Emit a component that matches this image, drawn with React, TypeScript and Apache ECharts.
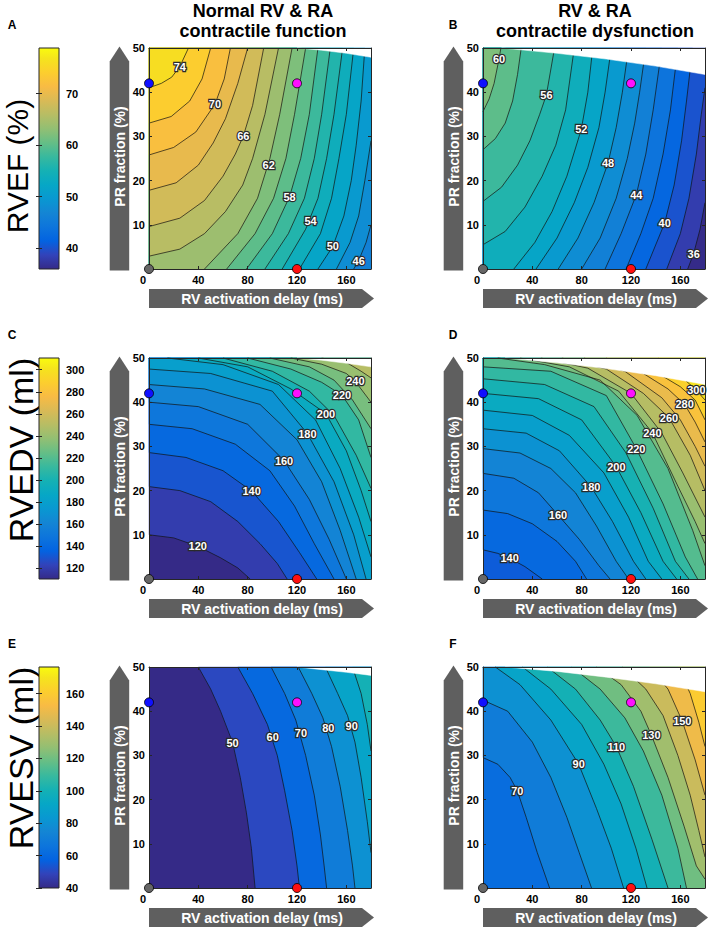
import React, { useEffect, useRef } from "react";
import * as echarts from "echarts";

const FONT = "'Liberation Sans', Arial, Helvetica, sans-serif";

// ---- axes ----
const X_MIN = 0, X_MAX = 180, X_STEP = 40;
const Y_MIN = 0, Y_MAX = 50, Y_STEP = 10;

// ---- marker points (RV activation delay ms, PR fraction %) ----
const DOT_X = [0, 120, 120, 0];
const DOT_Y = [42, 42, 0, 0];
const DOT_COLORS = ["#1010ff", "#ff10ff", "#ff1010", "#666666"];

// ---- colour bars ----
const CB_RANGES = [[35.9, 78.9], [110.3, 310.6], [40, 176.4]];
const CB1_TICKS = [40, 50, 60, 70];
const CB2_TICKS = [120, 140, 160, 180, 200, 220, 240, 260, 280, 300];
const CB3_TICKS = [40, 60, 80, 100, 120, 140, 160];
const CB_TICKS = [CB1_TICKS, CB2_TICKS, CB3_TICKS];
// band colour taken from the band's upper level (1) or lower level (0), per row
const BAND_SHIFT = [1, 0, 0];
const ROW_TITLES = ["RVEF (%)", "RVEDV (ml)", "RVESV (ml)"];
const COL_TITLES = [["Normal RV & RA", "contractile function"], ["RV & RA", "contractile dysfunction"]];
const PANEL_LETTERS = ["A", "B", "C", "D", "E", "F"];
const Y_AXIS_NAME = "PR fraction (%)";
const X_AXIS_NAME = "RV activation delay (ms)";

// ---- Panel A: RVEF, normal ----
const A_MIN = 45;
const A_LEVELS = [46, 48, 50, 52, 54, 56, 58, 60, 62, 64, 66, 68, 70, 72, 74];
const A_LINES = [
  [[166, 0], [170, 1.9], [176, 6], [180, 10]],
  [[152, 0], [163, 6], [170, 12], [175, 20], [180, 29]],
  [[137, 0], [149, 5.1], [158, 12], [164, 20], [168, 28], [172, 38], [175, 50]],
  [[122, 0], [139, 8], [148, 16], [154, 25], [160, 35], [166, 50]],
  [[108, 0], [127, 9], [137, 16], [144, 25], [150, 35], [157, 50]],
  [[94, 0], [113, 8], [126, 16], [134, 25], [140, 35], [147, 50]],
  [[79, 0], [100, 8], [114, 16.4], [123, 25], [130, 35], [137, 50]],
  [[63, 0], [86, 8], [101, 16], [111, 25], [118, 35], [127, 50]],
  [[45, 0], [72, 8], [88, 16], [98, 25], [106, 35], [116, 50]],
  [[0, 2.9], [25, 4.5], [45, 8], [62, 13], [76, 19], [84, 25], [94, 35], [105, 50]],
  [[0, 9.6], [25, 11.5], [45, 15.5], [60, 21], [70, 26], [76.5, 30.1], [84, 37], [93, 50]],
  [[0, 17.8], [22, 19.5], [40, 23.5], [52, 28.5], [62, 34], [72, 42], [80, 50]],
  [[0, 25.8], [20, 27.5], [38, 31], [53.5, 37.3], [61, 43], [66, 50]],
  [[0, 33], [18, 34.5], [33, 38], [43, 43], [50, 50]],
  [[0, 41], [10, 42], [18.4, 43.4], [25, 45.8], [32, 50]],
];
const A_LABELS = [[25, 45.8, "74"], [53.5, 37.3, "70"], [76.5, 30.1, "66"], [97, 23.6, "62"], [114, 16.4, "58"], [131, 10.9, "54"], [149, 5.1, "50"], [170, 1.9, "46"]];
const A_CUT_X = [120, 140, 160, 180];
const A_CUT_Y = [50, 49.5, 48.8, 47.9];

// ---- Panel B: RVEF, dysfunction ----
const B_MIN = 35.9;
const B_LEVELS = [36, 38, 40, 42, 44, 46, 48, 50, 52, 54, 56, 58, 60];
const B_LINES = [
  [[166, 0], [170.8, 3.5], [176, 9], [180, 15]],
  [[149, 0], [160, 8], [167, 16], [173, 26], [177, 35], [180, 41]],
  [[132, 0], [147.3, 10.4], [155, 19], [161, 29], [165, 38], [170, 50]],
  [[116, 0], [128, 8], [138, 16], [146, 26], [152, 36], [158, 50]],
  [[99, 0], [112, 8], [124.3, 16.8], [132, 26], [138, 36], [145, 50]],
  [[80, 0], [95, 7], [108, 16], [117, 25], [123, 33], [127, 40], [132, 50]],
  [[61, 0], [77, 7], [90, 15], [101.4, 24], [108, 32], [113, 40], [118, 50]],
  [[43, 0], [60, 7], [74, 15], [85, 23], [94, 32], [99, 40], [104, 50]],
  [[25, 0], [42, 6], [56, 13], [68, 21], [79.7, 31.6], [85, 40], [89, 50]],
  [[0, 5.5], [18, 8.5], [34, 14], [48, 21], [59, 28], [67, 36], [74, 50]],
  [[0, 15.3], [15, 18.5], [28, 23.5], [38, 29], [46, 35], [51.4, 39.4], [58, 50]],
  [[0, 27], [10, 29.5], [18, 33], [24, 38], [28, 44], [31, 50]],
  [[0, 35.6], [5, 38.5], [9, 42], [13, 47.5], [14.5, 50]],
];
const B_LABELS = [[13, 47.5, "60"], [51.4, 39.4, "56"], [79.7, 31.6, "52"], [101.4, 24, "48"], [124.3, 16.8, "44"], [147.3, 10.4, "40"], [170.8, 3.5, "36"]];
const B_CUT_X = [15, 60, 100, 140, 180];
const B_CUT_Y = [50, 48.8, 47.5, 45.9, 44];

// ---- Panel C: RVEDV, normal ----
const C_MIN = 110.3;
const C_LEVELS = [120, 130, 140, 150, 160, 170, 180, 190, 200, 210, 220, 230, 240, 250];
const C_LINES = [
  [[0, 10], [20, 9.3], [39.5, 7.4], [58, 4.8], [72, 2.5], [82, 0]],
  [[0, 20.9], [25, 20], [50, 17.5], [72, 13], [90, 8], [104, 3.5], [112, 0]],
  [[0, 28.6], [30, 27.5], [60, 24.5], [83.2, 19.9], [105, 13], [122, 6], [136, 0]],
  [[0, 35], [35, 34], [70, 30.5], [98, 24.5], [118, 16.5], [134, 8], [150, 0]],
  [[0, 40], [40, 39], [80, 35], [109.5, 26.8], [130, 18], [146, 9], [160, 0]],
  [[0, 44], [45, 43], [90, 39.5], [120, 31.5], [140, 22], [155, 11], [168, 0]],
  [[0, 47.5], [50, 46.5], [100, 42.5], [128.4, 32.9], [150, 22], [166, 10], [176, 0]],
  [[15, 50], [60, 48.5], [105, 44], [135, 36], [155, 25], [170, 14], [180, 5]],
  [[40, 50], [80, 48], [115, 43], [143.5, 37.4], [160, 29], [172, 20], [180, 13]],
  [[60, 50], [100, 47], [130, 42.5], [150, 37], [168, 28], [180, 20.5]],
  [[80, 50], [115, 47.5], [140, 44.5], [156.5, 41.6], [170, 36], [180, 27.5]],
  [[98, 50], [130, 48], [150, 45], [165, 40.5], [180, 34]],
  [[115, 50], [140, 48.6], [160, 46.5], [167.3, 44.7], [180, 40]],
  [[140, 50], [160, 49], [172, 47], [180, 45.5]],
];
const C_LABELS = [[39.5, 7.4, "120"], [83.2, 19.9, "140"], [109.5, 26.8, "160"], [128.4, 32.9, "180"], [143.5, 37.4, "200"], [156.5, 41.6, "220"], [167.3, 44.7, "240"]];
const C_CUT_X = [120, 140, 160, 180];
const C_CUT_Y = [50, 49.5, 48.8, 48];

// ---- Panel D: RVEDV, dysfunction ----
const D_MIN = 133;
const D_LEVELS = [140, 150, 160, 170, 180, 190, 200, 210, 220, 230, 240, 250, 260, 270, 280, 290, 300];
const D_LINES = [
  [[0, 6.6], [12, 5.8], [21.6, 4.7], [34, 2.8], [48, 0]],
  [[0, 15.6], [20, 14.8], [40, 12.5], [60, 8.5], [75, 4], [84, 0]],
  [[0, 23.9], [25, 22.8], [45, 19.5], [60.8, 14.5], [78, 9], [94, 3], [103, 0]],
  [[0, 29.5], [30, 28.5], [55, 25], [75, 19.5], [92, 12], [108, 4], [118, 0]],
  [[0, 34], [35, 33], [62, 29], [87.8, 20.8], [105, 13], [122, 4], [132, 0]],
  [[0, 38.2], [40, 37], [70, 32.5], [98, 24], [118, 14], [134, 4], [145, 0]],
  [[0, 42], [45, 40.8], [80, 36], [108.1, 25.4], [128, 15], [146, 4], [157, 0]],
  [[0, 45.3], [50, 44], [90, 39], [116, 28.5], [138, 16], [156, 4], [167, 0]],
  [[0, 48], [55, 47], [100, 41.5], [124.3, 29.5], [146, 17], [164, 5], [174, 0]],
  [[12, 50], [50, 48.5], [95, 45], [125, 37], [150, 25], [170, 11], [180, 3]],
  [[30, 50], [70, 48], [110, 42.5], [137.3, 33.1], [158, 21], [172, 13], [180, 8]],
  [[47, 50], [85, 47.7], [120, 42], [145, 33], [162, 24], [180, 14]],
  [[64, 50], [100, 47.5], [130, 42], [150.8, 36.5], [168, 28], [180, 20]],
  [[82, 50], [115, 47], [145, 41], [160, 36], [172, 30], [180, 25.5]],
  [[100, 50], [130, 46.5], [150, 43], [163.5, 39.5], [172, 35.5], [180, 31]],
  [[120, 50], [145, 46], [160, 43.5], [172, 40.5], [180, 36]],
  [[142, 50], [160, 46], [173, 42.7], [180, 40.5]],
];
const D_LABELS = [[21.6, 4.7, "140"], [60.8, 14.5, "160"], [87.8, 20.8, "180"], [108.1, 25.4, "200"], [124.3, 29.5, "220"], [137.3, 33.1, "240"], [150.8, 36.5, "260"], [163.5, 39.5, "280"], [173, 42.7, "300"]];
const D_CUT_X = [18, 60, 100, 140, 180];
const D_CUT_Y = [50, 48.9, 47.6, 46, 44];

// ---- Panel E: RVESV, normal ----
const E_MIN = 40;
const E_LEVELS = [50, 60, 70, 80, 90, 100];
const E_LINES = [
  [[40, 50], [50, 45], [58, 40], [67.8, 32.9], [74, 25], [79, 17], [83, 9], [86, 0]],
  [[72, 50], [84, 44], [96, 37], [104, 30], [110, 22], [116, 13], [120, 5], [122, 0]],
  [[99, 50], [110, 44], [119, 38], [127, 30], [134, 21], [139, 12], [142, 5], [144, 0]],
  [[121, 50], [132, 44], [141, 38.5], [148, 32], [155, 23], [161, 13], [165, 5], [167, 0]],
  [[143, 50], [153, 44], [161, 39], [167, 33], [172, 25], [177, 15], [180, 8]],
  [[165, 50], [172, 44], [177, 37], [180, 31]],
];
const E_LABELS = [[67.8, 32.9, "50"], [100.3, 34.2, "60"], [123.2, 35.1, "70"], [145.4, 36.1, "80"], [164.3, 36.6, "90"]];
const E_CUT_X = [120, 140, 160, 180];
const E_CUT_Y = [50, 49.4, 48.8, 48.1];

// ---- Panel F: RVESV, dysfunction ----
const F_MIN = 62;
const F_LEVELS = [70, 80, 90, 100, 110, 120, 130, 140, 150, 160];
const F_LINES = [
  [[0, 29.5], [12, 28], [22, 25], [27.8, 22], [35, 16], [44, 8], [54, 0]],
  [[0, 42.5], [20, 40], [40, 33], [55, 25], [68, 16], [78, 8], [88, 0]],
  [[10, 50], [30, 46], [55, 38], [77.6, 28], [92, 18], [104, 9], [114, 0]],
  [[32, 50], [55, 45], [80, 37], [98, 28], [112, 19], [124, 9], [133, 0]],
  [[52, 50], [75, 45], [95, 38], [108.1, 32], [122, 23], [137, 11], [150, 0]],
  [[72, 50], [95, 45], [115, 38.5], [130, 31], [145, 21], [158, 9], [165, 0]],
  [[92, 50], [112, 46], [128, 40], [136.5, 34.6], [150, 25], [163, 14], [173, 5], [180, 2]],
  [[113, 50], [132, 45], [146, 39], [158, 30], [168, 21], [175, 13], [180, 7]],
  [[135, 50], [150, 45], [161.6, 37.7], [172, 29], [180, 21]],
  [[158, 50], [168, 44], [175, 37.5], [180, 32]],
];
const F_LABELS = [[27.8, 22, "70"], [77.6, 28, "90"], [108.1, 32, "110"], [136.5, 34.6, "130"], [161.6, 37.7, "150"]];
const F_CUT_X = [18, 60, 100, 140, 180];
const F_CUT_Y = [50, 49, 47.7, 46.2, 44.4];

const PANELS = [
  { levels: A_LEVELS, lines: A_LINES, labels: A_LABELS, cutX: A_CUT_X, cutY: A_CUT_Y, base: A_MIN, row: 0, col: 0 },
  { levels: B_LEVELS, lines: B_LINES, labels: B_LABELS, cutX: B_CUT_X, cutY: B_CUT_Y, base: B_MIN, row: 0, col: 1 },
  { levels: C_LEVELS, lines: C_LINES, labels: C_LABELS, cutX: C_CUT_X, cutY: C_CUT_Y, base: C_MIN, row: 1, col: 0 },
  { levels: D_LEVELS, lines: D_LINES, labels: D_LABELS, cutX: D_CUT_X, cutY: D_CUT_Y, base: D_MIN, row: 1, col: 1 },
  { levels: E_LEVELS, lines: E_LINES, labels: E_LABELS, cutX: E_CUT_X, cutY: E_CUT_Y, base: E_MIN, row: 2, col: 0 },
  { levels: F_LEVELS, lines: F_LINES, labels: F_LABELS, cutX: F_CUT_X, cutY: F_CUT_Y, base: F_MIN, row: 2, col: 1 },
];

// ---- parula colour map (style) ----
const PARULA: [number, string][] = [
  [0, "#352a87"], [4 / 63, "#3243ba"], [8 / 63, "#0363e1"], [12 / 63, "#0d75dc"], [16 / 63, "#1485d4"],
  [20 / 63, "#0998d1"], [24 / 63, "#06a7c6"], [28 / 63, "#15b1b4"], [32 / 63, "#38b99e"], [36 / 63, "#65be86"],
  [40 / 63, "#92bf73"], [44 / 63, "#b7bd64"], [48 / 63, "#d9ba56"], [52 / 63, "#f8bb44"], [56 / 63, "#fcce2e"],
  [60 / 63, "#f5e41d"], [1, "#f9fb0e"],
];
function hexRgb(h: string) {
  return [parseInt(h.slice(1, 3), 16), parseInt(h.slice(3, 5), 16), parseInt(h.slice(5, 7), 16)];
}
function parula(t: number) {
  t = Math.max(0, Math.min(1, t));
  for (let i = 0; i < PARULA.length - 1; i++) {
    const [p0, c0] = PARULA[i];
    const [p1, c1] = PARULA[i + 1];
    if (t <= p1) {
      const f = (t - p0) / (p1 - p0);
      const a = hexRgb(c0), b = hexRgb(c1);
      return `rgb(${Math.round(a[0] + (b[0] - a[0]) * f)},${Math.round(a[1] + (b[1] - a[1]) * f)},${Math.round(a[2] + (b[2] - a[2]) * f)})`;
    }
  }
  return PARULA[PARULA.length - 1][1];
}
function rowColor(v: number, row: number) {
  const [lo, hi] = CB_RANGES[row];
  return parula((v - lo) / (hi - lo));
}

// perimeter walk to close a contour region on its high side
const PER = 2 * (X_MAX - X_MIN) + 2 * (Y_MAX - Y_MIN);
function perim(p: number[]) {
  const [x, y] = p;
  if (y <= Y_MIN) return x;
  if (x >= X_MAX) return X_MAX + y;
  if (y >= Y_MAX) return X_MAX + Y_MAX + (X_MAX - x);
  return 2 * X_MAX + Y_MAX + (Y_MAX - y);
}
const CORNERS: [number, number[]][] = [
  [0, [X_MIN, Y_MIN]],
  [X_MAX, [X_MAX, Y_MIN]],
  [X_MAX + Y_MAX, [X_MAX, Y_MAX]],
  [2 * X_MAX + Y_MAX, [X_MIN, Y_MAX]],
];
function closeRegion(line: number[][]) {
  const tS = perim(line[0]);
  const tE = perim(line[line.length - 1]);
  const dS = (tS - tE + PER) % PER;
  const cs = CORNERS.map(([t, p]) => [((t - tE) % PER + PER) % PER, p] as [number, number[]])
    .filter(([d]) => d > 0 && d < dS)
    .sort((a, b) => a[0] - b[0])
    .map((c) => c[1]);
  return line.concat(cs);
}

// ---- layout (style) ----
const COL_LEFT = [149, 483];
const ROW_TOP = [48, 358, 667];
const PW = 222, PH = 221;
const CB_LEFT = 39, CB_W = 20;
const ARROW = "#5f5f5f";

function buildOption() {
  const grid: any[] = [];
  const xAxis: any[] = [];
  const yAxis: any[] = [];
  const series: any[] = [];
  const graphic: any[] = [];

  const lblStyle = { color: "#000", fontSize: 11, fontWeight: "bold", fontFamily: FONT };
  const lineStyle = { color: "#262626", width: 1 };

  PANELS.forEach((panel, p) => {
    const L = COL_LEFT[panel.col], T = ROW_TOP[panel.row];
    grid.push({ left: L, top: T, width: PW, height: PH, outerBoundsMode: "none", containLabel: false });
    const common = { type: "value", gridIndex: p, min: X_MIN, max: X_MAX, interval: X_STEP, z: 5, splitLine: { show: false } };
    xAxis.push({
      ...common, position: "bottom",
      axisLine: { show: true, onZero: false, lineStyle },
      axisTick: { show: true, inside: true, length: 3, lineStyle },
      axisLabel: {
        ...lblStyle, margin: 5, showMaxLabel: false,
        formatter: (v: number) => (v === 0 ? "{z|0}" : String(v)),
        rich: { z: { ...lblStyle, padding: [0, 12, 0, 0] } },
      },
    });
    xAxis.push({
      ...common, position: "top",
      axisLine: { show: true, onZero: false, lineStyle },
      axisTick: { show: true, inside: true, length: 3, lineStyle },
      axisLabel: { show: false },
    });
    const ycommon = { type: "value", gridIndex: p, min: Y_MIN, max: Y_MAX, interval: Y_STEP, z: 5, splitLine: { show: false } };
    yAxis.push({
      ...ycommon, position: "left",
      axisLine: { show: true, onZero: false, lineStyle },
      axisTick: { show: true, inside: true, length: 3, lineStyle },
      axisLabel: { ...lblStyle, margin: 4, showMinLabel: false },
    });
    yAxis.push({
      ...ycommon, position: "right",
      axisLine: { show: true, onZero: false, lineStyle },
      axisTick: { show: true, inside: true, length: 3, lineStyle },
      axisLabel: { show: false },
    });

    const shift = BAND_SHIFT[panel.row];
    const step = panel.levels[1] - panel.levels[0];
    const baseVal = shift ? panel.levels[0] : panel.base;

    series.push({
      type: "custom",
      xAxisIndex: 2 * p,
      yAxisIndex: 2 * p,
      z: 1,
      silent: true,
      clip: false,
      data: [[0, 0]],
      renderItem: (_params: any, api: any) => {
        const c = (pt: number[]) => api.coord([pt[0], pt[1]]);
        const children: any[] = [];
        children.push({
          type: "polygon",
          shape: { points: [[X_MIN, Y_MIN], [X_MAX, Y_MIN], [X_MAX, Y_MAX], [X_MIN, Y_MAX]].map(c) },
          style: { fill: rowColor(baseVal, panel.row) },
        });
        panel.lines.forEach((ln: number[][], i: number) => {
          const col = rowColor(panel.levels[i] + shift * step, panel.row);
          children.push({
            type: "polygon",
            shape: { points: closeRegion(ln).map(c) },
            style: { fill: col, stroke: col, lineWidth: 0.4 },
          });
        });
        panel.lines.forEach((ln: number[][]) => {
          children.push({
            type: "polyline",
            shape: { points: ln.map(c) },
            style: { stroke: "#111", lineWidth: 0.7, fill: "none" },
          });
        });
        const cut = panel.cutX.map((x: number, i: number) => [x, panel.cutY[i]]);
        cut.push([X_MAX, Y_MAX]);
        children.push({
          type: "polygon",
          shape: { points: cut.map(c) },
          style: { fill: "#ffffff", stroke: "#ffffff", lineWidth: 0.5 },
        });
        panel.labels.forEach((lb: any[]) => {
          const pt = c([lb[0], lb[1]]);
          children.push({
            type: "text",
            x: pt[0],
            y: pt[1],
            style: {
              text: lb[2], fill: "#ffffff", stroke: "#2a2a2a", lineWidth: 2.4,
              fontSize: 11, fontWeight: "bold", fontFamily: FONT,
              align: "center", verticalAlign: "middle", textAlign: "center", textVerticalAlign: "middle",
            },
          });
        });
        return { type: "group", children };
      },
    });

    series.push({
      type: "scatter",
      xAxisIndex: 2 * p,
      yAxisIndex: 2 * p,
      z: 10,
      silent: true,
      clip: false,
      symbolSize: 9,
      data: DOT_X.map((x, i) => [x, DOT_Y[i]]),
      itemStyle: {
        color: (prm: any) => DOT_COLORS[prm.dataIndex],
        borderColor: "#000",
        borderWidth: 0.8,
        opacity: 1,
      },
    });

    // decorations: gray arrows with axis names
    const B = T + PH, R = L + PW;
    graphic.push({
      type: "polygon",
      shape: { points: [[L - 39.3, B + 1.4], [L - 39.3, T + 13.4], [L - 29.5, T - 1.6], [L - 19.8, T + 13.4], [L - 19.8, B + 1.4]] },
      style: { fill: ARROW },
    });
    graphic.push({
      type: "text", x: L - 29.5, y: T + 108.5, rotation: Math.PI / 2,
      style: { text: Y_AXIS_NAME, fill: "#fff", fontSize: 14, fontWeight: "bold", fontFamily: FONT, align: "center", verticalAlign: "middle", textAlign: "center", textVerticalAlign: "middle" },
    });
    graphic.push({
      type: "polygon",
      shape: { points: [[L, B + 20], [R - 9, B + 20], [R + 3, B + 29.5], [R - 9, B + 39], [L, B + 39]] },
      style: { fill: ARROW },
    });
    graphic.push({
      type: "text", x: L + 113, y: B + 29.5,
      style: { text: X_AXIS_NAME, fill: "#fff", fontSize: 14, fontWeight: "bold", fontFamily: FONT, align: "center", verticalAlign: "middle", textAlign: "center", textVerticalAlign: "middle" },
    });
    graphic.push({
      type: "text", x: panel.col === 0 ? 12 : 453, y: T - 23,
      style: { text: PANEL_LETTERS[p], fill: "#000", fontSize: 12, fontWeight: "bold", fontFamily: FONT, align: "center", verticalAlign: "middle", textAlign: "center", textVerticalAlign: "middle" },
    });
  });

  // colour bars
  CB_RANGES.forEach((rg, r) => {
    const gi = PANELS.length + r;
    grid.push({ left: CB_LEFT, top: ROW_TOP[r], width: CB_W, height: PH, outerBoundsMode: "none", containLabel: false });
    xAxis.push({ type: "value", gridIndex: gi, min: 0, max: 1, show: false });
    const yc = { type: "value", gridIndex: gi, min: rg[0], max: rg[1], z: 5, splitLine: { show: false }, axisLine: { show: false } };
    yAxis.push({
      ...yc, position: "right",
      axisTick: { show: true, inside: true, length: 3, lineStyle, customValues: CB_TICKS[r] },
      axisLabel: { ...lblStyle, margin: 7, customValues: CB_TICKS[r] },
    });
    yAxis.push({
      ...yc, position: "left",
      axisTick: { show: true, inside: true, length: 3, lineStyle, customValues: CB_TICKS[r] },
      axisLabel: { show: false },
    });
    const stops = PARULA.map(([pos, col]) => ({ offset: 1 - pos, color: col })).reverse();
    series.push({
      type: "custom",
      xAxisIndex: 12 + r,
      yAxisIndex: 12 + 2 * r,
      z: 1,
      silent: true,
      data: [[0, rg[0]]],
      renderItem: (_params: any, api: any) => {
        const p1 = api.coord([0, rg[1]]);
        const p2 = api.coord([1, rg[0]]);
        return {
          type: "rect",
          shape: { x: p1[0], y: p1[1], width: p2[0] - p1[0], height: p2[1] - p1[1] },
          style: {
            fill: new echarts.graphic.LinearGradient(0, 0, 0, 1, stops),
            stroke: "#262626",
            lineWidth: 1,
          },
        };
      },
    });
  });

  // titles
  const titleX = [263, 595];
  COL_TITLES.forEach((lines, col) => {
    lines.forEach((t, k) => {
      graphic.push({
        type: "text", x: titleX[col], y: k === 0 ? 11 : 31,
        style: { text: t, fill: "#000", fontSize: 18, fontWeight: "bold", fontFamily: FONT, align: "center", verticalAlign: "middle", textAlign: "center", textVerticalAlign: "middle" },
      });
    });
  });
  const rowLbl = [[17, 166, 30], [20.5, 450, 34], [20.5, 758, 34]];
  ROW_TITLES.forEach((t, r) => {
    graphic.push({
      type: "text", x: rowLbl[r][0], y: rowLbl[r][1], rotation: Math.PI / 2,
      style: { text: t, fill: "#000", fontSize: rowLbl[r][2], fontWeight: "normal", fontFamily: FONT, align: "center", verticalAlign: "middle", textAlign: "center", textVerticalAlign: "middle" },
    });
  });

  return {
    animation: false,
    backgroundColor: "#ffffff",
    grid,
    xAxis,
    yAxis,
    series,
    graphic: { elements: graphic },
  };
}

export default function App() {
  const ref = useRef<HTMLDivElement>(null);
  useEffect(() => {
    document.body.style.margin = "0";
    const chart = echarts.init(ref.current as HTMLDivElement, null, { renderer: "svg" });
    chart.setOption(buildOption() as any);
    return () => chart.dispose();
  }, []);
  return <div ref={ref} style={{ width: 709, height: 927 }} />;
}
